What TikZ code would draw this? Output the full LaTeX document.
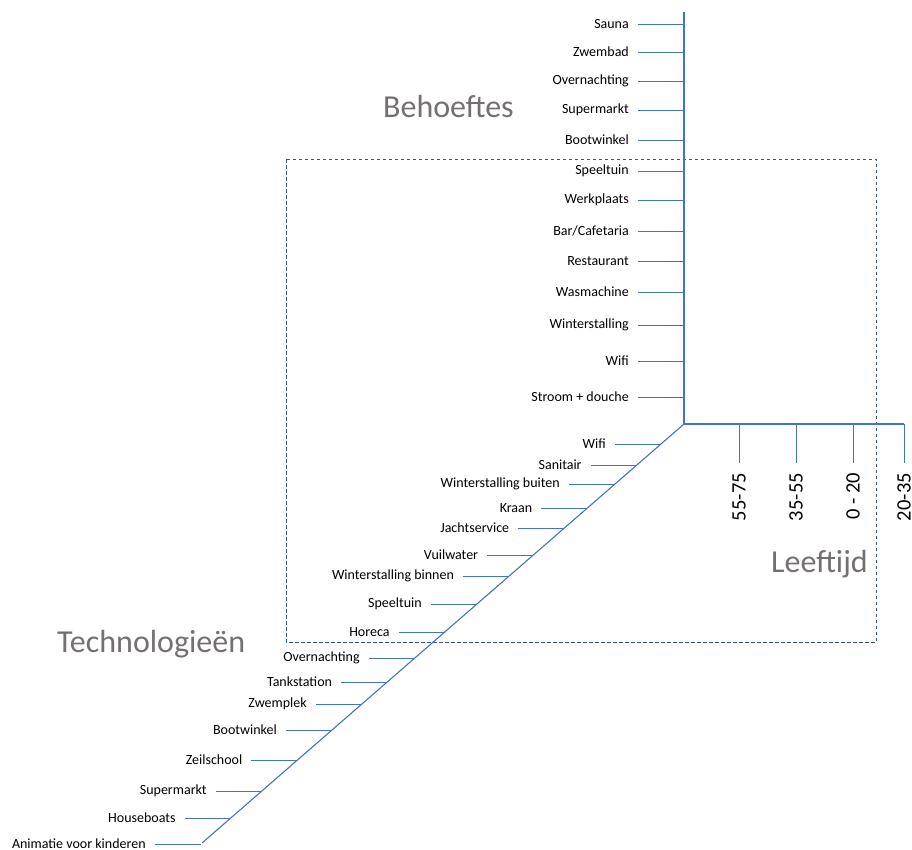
\documentclass[tikz,border=0pt]{standalone}
\usepackage{fontspec}
\setmainfont{Carlito}
\usetikzlibrary{calc}
\definecolor{axisblue}{HTML}{4472C4}
\definecolor{frameblue}{HTML}{2F5597}
\definecolor{titlegrey}{HTML}{757070}
\begin{document}
\begin{tikzpicture}[x=1pt,y=-1pt,
  axis/.style={draw=axisblue,line width=1.1pt},
  tick/.style={draw=axisblue,line width=0.9pt},
  lbl/.style={font=\fontsize{14}{16}\selectfont,text=black,inner sep=0pt,anchor=east},
  agelbl/.style={font=\fontsize{20.5}{23}\selectfont,text=black,inner sep=0pt,anchor=east,rotate=90},
  title/.style={font=\fontsize{32}{36}\selectfont,text=titlegrey,inner sep=0pt,anchor=base west},
  frame/.style={draw=frameblue,line width=0.9pt,dash pattern=on 3.5pt off 2.5pt}]
\useasboundingbox (0,0) rectangle (912,849);

% dashed frame
\draw[frame] (286,159) rectangle (876,642);

% main axes
\coordinate (vtop) at (684,12);
\coordinate (origin) at (684,424);
\coordinate (hend) at (904,424);
\coordinate (dend) at (202,843);
\draw[axis] (vtop) -- (origin);
\draw[axis] (origin) -- (hend);
\draw[axis] (origin) -- (dend);

% needs (vertical axis)
\foreach \y/\t [count=\i] in {24/Sauna,52/Zwembad,81/Overnachting,110/Supermarkt,
  140/Bootwinkel,171/Speeltuin,200/Werkplaats,231/Bar\slash Cafetaria,261/Restaurant,
  292/Wasmachine,325/Winterstalling,361/Wifi,397/Stroom + douche}{
  \coordinate (b\i) at (684,\y);
  \coordinate (bs\i) at (638,\y);
  \draw[tick] (bs\i) -- (b\i);
  \node[lbl] (bl\i) at ([xshift=-9pt]bs\i) {\t};
}

% technologies (diagonal axis)
\foreach \y/\t [count=\i] in {444/Wifi,465/Sanitair,484/Winterstalling buiten,508/Kraan,
  528/Jachtservice,555/Vuilwater,576/Winterstalling binnen,604/Speeltuin,632/Horeca,
  658/Overnachting,682/Tankstation,704/Zwemplek,730/Bootwinkel,760/Zeilschool,
  791/Supermarkt,818/Houseboats,844/Animatie voor kinderen}{
  \pgfmathsetmacro\f{(\y-424)/419}
  \coordinate (d\i) at ($(origin)!\f!(dend)$);
  \coordinate (ds\i) at ([xshift=-46pt]d\i);
  \draw[tick] (ds\i) -- (d\i);
  \node[lbl] (dl\i) at ([xshift=-9pt]ds\i) {\t};
}

% age groups (horizontal axis)
\foreach \x/\t [count=\i] in {739/55-75,796/35-55,853/0 - 20,904/20-35}{
  \coordinate (a\i) at (\x,424);
  \coordinate (ae\i) at (\x,463);
  \draw[tick] (a\i) -- (ae\i);
  \node[agelbl] (al\i) at ([yshift=-10pt]ae\i) {\t};
}

% axis titles
\node[title] (tneeds) at (383,117) {Behoeftes};
\node[title] (ttech) at (57,652) {Technologieën};
\node[title] (tage) at (771,572) {Leeftijd};
\end{tikzpicture}
\end{document}
